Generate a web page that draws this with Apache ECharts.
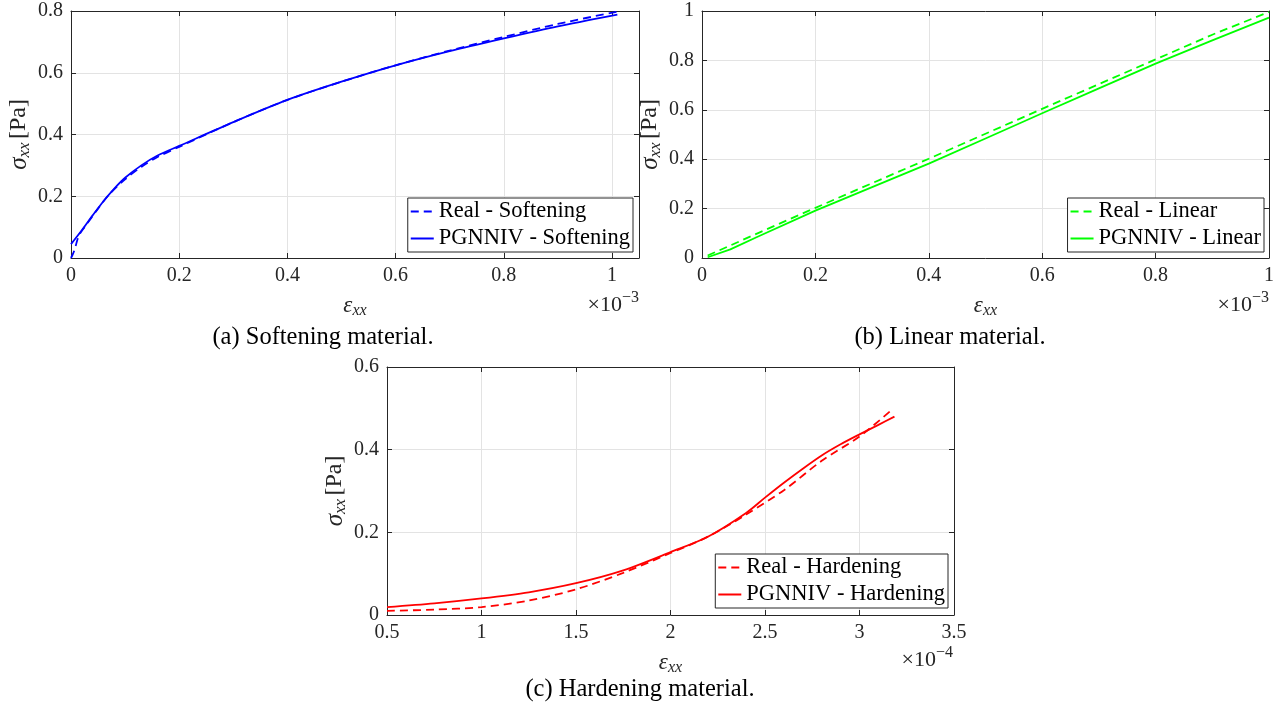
<!DOCTYPE html>
<html>
<head>
<meta charset="utf-8">
<title>Stress-strain curves</title>
<script src="https://cdn.jsdelivr.net/npm/echarts@6/dist/echarts.min.js"></script>
<style>
  html, body { margin: 0; padding: 0; background: #ffffff; }
  #chart { width: 1285px; height: 714px; }
</style>
</head>
<body>
<div id="chart"></div>
<script>
// Strain values are in units of 1e-3 (a, b) and 1e-4 (c); stress in Pa.

// (a) Softening material
const softRealX = [0, 0.004, 0.008, 0.012, 0.017, 0.025, 0.035, 0.05, 0.07, 0.1, 0.13, 0.16, 0.2, 0.3, 0.4, 0.5, 0.6, 0.7, 0.8, 0.9, 1.01];
const softRealY = [0, 0.015, 0.035, 0.06, 0.08, 0.1, 0.124, 0.16, 0.205, 0.255, 0.295, 0.327, 0.36, 0.44, 0.512, 0.571, 0.624, 0.672, 0.716, 0.758, 0.798];
const softNetX = [0, 0.02, 0.04, 0.06, 0.08, 0.1, 0.13, 0.16, 0.2, 0.3, 0.4, 0.5, 0.6, 0.7, 0.8, 0.9, 1.01];
const softNetY = [0.045, 0.09, 0.138, 0.184, 0.225, 0.26, 0.3, 0.332, 0.363, 0.44, 0.512, 0.571, 0.624, 0.67, 0.711, 0.75, 0.788];

// (b) Linear material
const linRealX = [0.01, 0.1, 0.2, 0.3, 0.4, 0.5, 0.6, 0.7, 0.8, 0.9, 1.0];
const linRealY = [0.01, 0.102, 0.203, 0.303, 0.402, 0.503, 0.604, 0.704, 0.804, 0.904, 0.996];
const linNetX = [0.01, 0.05, 0.1, 0.2, 0.3, 0.4, 0.5, 0.6, 0.7, 0.8, 0.9, 1.0];
const linNetY = [0.003, 0.035, 0.088, 0.192, 0.287, 0.382, 0.484, 0.586, 0.687, 0.787, 0.881, 0.973];

// (c) Hardening material
const hardRealX = [0.5, 0.75, 1.0, 1.25, 1.5, 1.75, 2.0, 2.2, 2.4, 2.6, 2.8, 3.0, 3.165];
const hardRealY = [0.01, 0.013, 0.019, 0.035, 0.062, 0.102, 0.15, 0.19, 0.243, 0.302, 0.373, 0.432, 0.494];
const hardNetX = [0.5, 0.75, 1.0, 1.25, 1.5, 1.75, 2.0, 2.2, 2.4, 2.5, 2.6, 2.7, 2.8, 2.9, 3.0, 3.1, 3.185];
const hardNetY = [0.019, 0.028, 0.04, 0.055, 0.077, 0.108, 0.152, 0.19, 0.247, 0.284, 0.32, 0.354, 0.386, 0.413, 0.437, 0.46, 0.48];

const seriesNames = [
  ['Real - Softening', 'PGNNIV - Softening'],
  ['Real - Linear', 'PGNNIV - Linear'],
  ['Real - Hardening', 'PGNNIV - Hardening']
];
const captions = ['(a) Softening material.', '(b) Linear material.', '(c) Hardening material.'];
const exponents = ['−3', '−3', '−4'];

const FONT = 'Liberation Serif';
const INK = '#262626';
const GRID_LINE = '#e3e3e3';

const zip = (xs, ys) => xs.map((x, i) => [x, ys[i]]);

const yName = {
  text: '{s|σ}{b|xx} {n|[Pa]}',
  rich: {
    s: { fontFamily: FONT, fontStyle: 'italic', fontSize: 25, color: INK, lineHeight: 28 },
    b: { fontFamily: FONT, fontStyle: 'italic', fontSize: 17, color: INK, verticalAlign: 'bottom', lineHeight: 28 },
    n: { fontFamily: FONT, fontSize: 24, color: INK, lineHeight: 28 }
  }
};
const xName = {
  text: '{s|ε}{b|xx}',
  rich: {
    s: { fontFamily: FONT, fontStyle: 'italic', fontSize: 23, color: INK, lineHeight: 26 },
    b: { fontFamily: FONT, fontStyle: 'italic', fontSize: 16, color: INK, verticalAlign: 'bottom', lineHeight: 26 }
  }
};

function mainAxis(gridIndex, pos, min, max, interval, extra) {
  return Object.assign({
    type: 'value', gridIndex, position: pos, min, max, interval,
    axisLine: { show: true, onZero: false, lineStyle: { color: INK, width: 1 } },
    axisTick: { show: true, inside: true, length: 5, lineStyle: { color: INK, width: 1 } },
    axisLabel: { color: INK, fontFamily: FONT, fontSize: 20, margin: 8 },
    splitLine: { show: true, lineStyle: { color: GRID_LINE, width: 1 } }
  }, extra || {});
}
function mirrorAxis(gridIndex, pos, min, max, interval) {
  return {
    type: 'value', gridIndex, position: pos, min, max, interval,
    axisLine: { show: true, onZero: false, lineStyle: { color: INK, width: 1 } },
    axisTick: { show: true, inside: true, length: 5, lineStyle: { color: INK, width: 1 } },
    axisLabel: { show: false },
    splitLine: { show: false }
  };
}

const xRanges = [[0, 1.05, 0.2], [0, 1, 0.2], [0.5, 3.5, 0.5]];
const yRanges = [[0, 0.8, 0.2], [0, 1, 0.2], [0, 0.6, 0.2]];

const xAxes = [], yAxes = [];
for (let g = 0; g < 3; g++) {
  const [x0, x1, xi] = xRanges[g];
  const [y0, y1, yi] = yRanges[g];
  xAxes.push(mainAxis(g, 'bottom', x0, x1, xi, {
    name: xName.text, nameLocation: 'middle', nameGap: 35,
    nameTextStyle: { rich: xName.rich },
    axisLabel: { color: INK, fontFamily: FONT, fontSize: 20, margin: 8, showMaxLabel: g !== 0 }
  }));
  xAxes.push(mirrorAxis(g, 'top', x0, x1, xi));
  yAxes.push(mainAxis(g, 'left', y0, y1, yi, {
    name: yName.text, nameLocation: 'middle', nameGap: 38, nameRotate: 90,
    nameTextStyle: { rich: yName.rich }
  }));
  yAxes.push(mirrorAxis(g, 'right', y0, y1, yi));
}

const colors = ['#0000ff', '#00ff00', '#ff0000'];
const dataSets = [
  [zip(softRealX, softRealY), zip(softNetX, softNetY)],
  [zip(linRealX, linRealY), zip(linNetX, linNetY)],
  [zip(hardRealX, hardRealY), zip(hardNetX, hardNetY)]
];

const series = [];
for (let g = 0; g < 3; g++) {
  for (let k = 0; k < 2; k++) {
    series.push({
      type: 'line',
      name: seriesNames[g][k],
      xAxisIndex: 2 * g,
      yAxisIndex: 2 * g,
      data: dataSets[g][k],
      symbol: 'none',
      smooth: g === 1 ? false : 0.3,
      z: k === 0 ? 3 : 4,
      lineStyle: { color: colors[g], width: 1.8, type: k === 0 ? [8, 5] : 'solid' },
      itemStyle: { color: colors[g] }
    });
  }
}

const legendPos = [
  { right: 652, top: 198 },
  { right: 21, top: 198 },
  { right: 337, top: 554 }
];
const legends = legendPos.map((p, g) => Object.assign({
  data: seriesNames[g],
  orient: 'vertical',
  backgroundColor: '#ffffff',
  borderColor: INK,
  borderWidth: 1,
  borderRadius: 0,
  padding: [2, 3, 2, 2],
  itemWidth: 23,
  itemHeight: 10,
  itemGap: 4,
  selectedMode: false,
  itemStyle: { opacity: 0 },
  textStyle: { fontFamily: FONT, fontSize: 22.5, color: '#000000', lineHeight: 23 }
}, p));

// Captions and the axis scale factors
const captionPos = [[323, 338], [950, 338], [640, 690]];
const factorPos = [[639, 303], [1269, 303], [953, 658]];
const graphics = [];
for (let g = 0; g < 3; g++) {
  graphics.push({
    type: 'text', x: captionPos[g][0], y: captionPos[g][1],
    style: { text: captions[g], font: '24.5px "' + FONT + '"', fill: '#000000', align: 'center', verticalAlign: 'middle' }
  });
  graphics.push({
    type: 'text', x: factorPos[g][0], y: factorPos[g][1],
    style: {
      text: '{a|×10}{p|' + exponents[g] + '}',
      align: 'right', verticalAlign: 'middle',
      rich: {
        a: { fontFamily: FONT, fontSize: 22, fill: INK, lineHeight: 26, verticalAlign: 'bottom' },
        p: { fontFamily: FONT, fontSize: 16, fill: INK, lineHeight: 26, verticalAlign: 'top' }
      }
    }
  });
}

const chart = echarts.init(document.getElementById('chart'), null, { renderer: 'canvas' });
chart.setOption({
  animation: false,
  backgroundColor: '#ffffff',
  grid: [
    { left: 71, top: 11, width: 568, height: 247 },
    { left: 702, top: 11, width: 567, height: 247 },
    { left: 387, top: 367, width: 567, height: 248 }
  ],
  xAxis: xAxes,
  yAxis: yAxes,
  legend: legends,
  series: series,
  graphic: graphics
});
</script>
</body>
</html>
